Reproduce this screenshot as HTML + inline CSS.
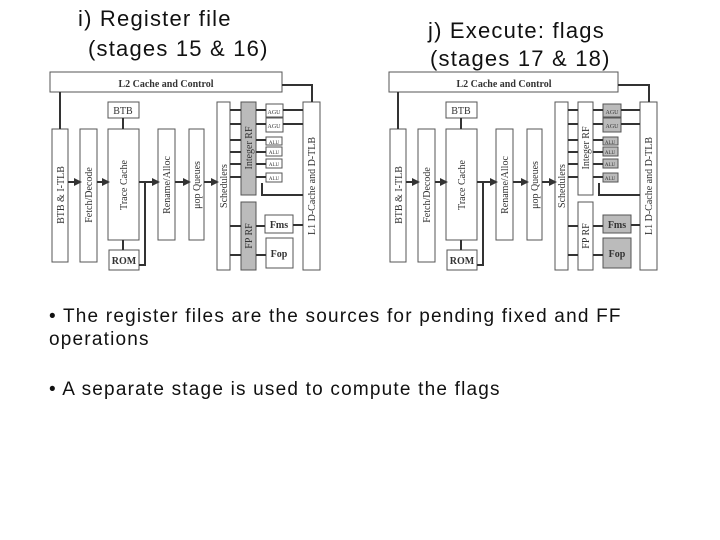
<!DOCTYPE html>
<html><head><meta charset="utf-8"><style>
body{margin:0;width:720px;height:540px;background:#fff;position:relative;overflow:hidden;font-family:"Liberation Sans",sans-serif}
.t{position:absolute;font-size:22px;letter-spacing:1.2px;color:#111;white-space:nowrap}
.b{position:absolute;font-size:19px;letter-spacing:1.2px;color:#111;left:49px;width:630px;line-height:23px}
svg{position:absolute;left:0;top:0}
svg text{font-family:"Liberation Serif",serif;fill:#333}
</style></head><body>
<div class="t" style="left:78px;top:6px">i) Register file</div>
<div class="t" style="left:88px;top:36px">(stages 15 &amp; 16)</div>
<div class="t" style="left:428px;top:18px">j) Execute: flags</div>
<div class="t" style="left:430px;top:46px">(stages 17 &amp; 18)</div>
<div class="b" style="top:305px">• The register files are the sources for pending fixed and FF operations</div>
<div class="b" style="top:378px">• A separate stage is used to compute the flags</div>
<svg width="720" height="540" viewBox="0 0 720 540">
<defs>
<marker id="a" markerWidth="4" markerHeight="4" refX="3" refY="2" orient="auto"><path d="M0,0L4,2L0,4z" fill="#333"/></marker>
</defs>
<g stroke="#555" stroke-width="1" fill="#fff">
<g transform="translate(45,70)">
<rect x="5" y="2" width="232" height="20"/>
<text x="121" y="17" text-anchor="middle" font-size="10" font-weight="bold" stroke="none">L2 Cache and Control</text>
<rect x="7" y="59" width="16" height="133"/>
<rect x="35" y="59" width="17" height="133"/>
<rect x="63" y="32" width="31" height="16"/>
<rect x="63" y="59" width="31" height="111"/>
<rect x="64" y="180" width="30" height="20"/>
<rect x="113" y="59" width="17" height="111"/>
<rect x="144" y="59" width="15" height="111"/>
<rect x="172" y="32" width="13" height="168"/>
<rect x="196" y="32" width="15" height="93" fill="#bbb"/>
<rect x="196" y="132" width="15" height="68" fill="#bbb"/>
<rect x="221" y="34" width="17" height="13"/>
<rect x="221" y="48" width="17" height="14"/>
<rect x="221" y="67" width="16" height="8"/>
<rect x="221" y="77" width="16" height="9"/>
<rect x="221" y="89" width="16" height="9"/>
<rect x="221" y="103" width="16" height="9"/>
<rect x="220" y="145" width="28" height="18"/>
<rect x="221" y="168" width="27" height="30"/>
<rect x="258" y="32" width="17" height="168"/>
<g stroke="none" fill="#333" font-size="10">
<text x="78" y="44" text-anchor="middle">BTB</text>
<text x="79" y="194" text-anchor="middle" font-weight="bold">ROM</text>
<text x="234" y="158" text-anchor="middle" font-weight="bold">Fms</text>
<text x="234" y="187" text-anchor="middle" font-weight="bold">Fop</text>
<text x="229" y="44" text-anchor="middle" font-size="6">AGU</text>
<text x="229" y="58" text-anchor="middle" font-size="6">AGU</text>
<text x="229" y="74" text-anchor="middle" font-size="5">ALU</text>
<text x="229" y="84" text-anchor="middle" font-size="5">ALU</text>
<text x="229" y="96" text-anchor="middle" font-size="5">ALU</text>
<text x="229" y="110" text-anchor="middle" font-size="5">ALU</text>
<text transform="translate(19,125) rotate(-90)" text-anchor="middle">BTB &amp; I-TLB</text>
<text transform="translate(47,125) rotate(-90)" text-anchor="middle">Fetch/Decode</text>
<text transform="translate(82,115) rotate(-90)" text-anchor="middle" fill="#777">Trace Cache</text>
<text transform="translate(125,115) rotate(-90)" text-anchor="middle">Rename/Alloc</text>
<text transform="translate(155,115) rotate(-90)" text-anchor="middle">μop Queues</text>
<text transform="translate(182,116) rotate(-90)" text-anchor="middle">Schedulers</text>
<text transform="translate(207,78) rotate(-90)" text-anchor="middle">Integer RF</text>
<text transform="translate(207,166) rotate(-90)" text-anchor="middle">FP RF</text>
<text transform="translate(270,116) rotate(-90)" text-anchor="middle">L1 D-Cache and D-TLB</text>
</g>
<g stroke="#333" stroke-width="2" fill="none">
<path d="M15,22V59"/><path d="M23,112H35" marker-end="url(#a)"/><path d="M52,112H63" marker-end="url(#a)"/>
<path d="M78,48V59"/><path d="M78,170V180"/>
<path d="M94,112H113" marker-end="url(#a)"/><path d="M94,195H100V112"/>
<path d="M130,112H144" marker-end="url(#a)"/><path d="M159,112H172" marker-end="url(#a)"/>
<path d="M185,40H196M185,54H196M185,70H196M185,82H196M185,94H196M185,107H196M185,156H196M185,185H196"/>
<path d="M211,40H221M211,54H221M211,70H221M211,82H221M211,94H221M211,107H221M211,156H220M211,185H221"/>
<path d="M238,40H258M238,54H258M248,155H258M217,113V125H258"/>
<path d="M237,15H267V32"/>
</g>
</g>
<g transform="translate(385,70)">
<rect x="4" y="2" width="229" height="20"/>
<text x="119" y="17" text-anchor="middle" font-size="10" font-weight="bold" stroke="none">L2 Cache and Control</text>
<rect x="5" y="59" width="16" height="133"/>
<rect x="33" y="59" width="17" height="133"/>
<rect x="61" y="32" width="31" height="16"/>
<rect x="61" y="59" width="31" height="111"/>
<rect x="62" y="180" width="30" height="20"/>
<rect x="111" y="59" width="17" height="111"/>
<rect x="142" y="59" width="15" height="111"/>
<rect x="170" y="32" width="13" height="168"/>
<rect x="193" y="32" width="15" height="93"/>
<rect x="193" y="132" width="15" height="68"/>
<rect x="218" y="34" width="18" height="13" fill="#bbb"/>
<rect x="218" y="48" width="18" height="14" fill="#bbb"/>
<rect x="218" y="67" width="15" height="8" fill="#bbb"/>
<rect x="218" y="77" width="15" height="9" fill="#bbb"/>
<rect x="218" y="89" width="15" height="9" fill="#bbb"/>
<rect x="218" y="103" width="15" height="9" fill="#bbb"/>
<rect x="218" y="145" width="28" height="18" fill="#bbb"/>
<rect x="218" y="168" width="28" height="30" fill="#bbb"/>
<rect x="255" y="32" width="17" height="168"/>
<g stroke="none" fill="#333" font-size="10">
<text x="76" y="44" text-anchor="middle">BTB</text>
<text x="77" y="194" text-anchor="middle" font-weight="bold">ROM</text>
<text x="232" y="158" text-anchor="middle" font-weight="bold">Fms</text>
<text x="232" y="187" text-anchor="middle" font-weight="bold">Fop</text>
<text x="227" y="44" text-anchor="middle" font-size="6">AGU</text>
<text x="227" y="58" text-anchor="middle" font-size="6">AGU</text>
<text x="225" y="74" text-anchor="middle" font-size="5">ALU</text>
<text x="225" y="84" text-anchor="middle" font-size="5">ALU</text>
<text x="225" y="96" text-anchor="middle" font-size="5">ALU</text>
<text x="225" y="110" text-anchor="middle" font-size="5">ALU</text>
<text transform="translate(17,125) rotate(-90)" text-anchor="middle">BTB &amp; I-TLB</text>
<text transform="translate(45,125) rotate(-90)" text-anchor="middle">Fetch/Decode</text>
<text transform="translate(80,115) rotate(-90)" text-anchor="middle" fill="#777">Trace Cache</text>
<text transform="translate(123,115) rotate(-90)" text-anchor="middle">Rename/Alloc</text>
<text transform="translate(153,115) rotate(-90)" text-anchor="middle">μop Queues</text>
<text transform="translate(180,116) rotate(-90)" text-anchor="middle">Schedulers</text>
<text transform="translate(204,78) rotate(-90)" text-anchor="middle">Integer RF</text>
<text transform="translate(204,166) rotate(-90)" text-anchor="middle">FP RF</text>
<text transform="translate(267,116) rotate(-90)" text-anchor="middle">L1 D-Cache and D-TLB</text>
</g>
<g stroke="#333" stroke-width="2" fill="none">
<path d="M13,22V59"/><path d="M21,112H33" marker-end="url(#a)"/><path d="M50,112H61" marker-end="url(#a)"/>
<path d="M76,48V59"/><path d="M76,170V180"/>
<path d="M92,112H111" marker-end="url(#a)"/><path d="M92,195H98V112"/>
<path d="M128,112H142" marker-end="url(#a)"/><path d="M157,112H170" marker-end="url(#a)"/>
<path d="M183,40H193M183,54H193M183,70H193M183,82H193M183,94H193M183,107H193M183,156H193M183,185H193"/>
<path d="M208,40H218M208,54H218M208,70H218M208,82H218M208,94H218M208,107H218M208,156H218M208,185H218"/>
<path d="M236,40H255M236,54H255M246,155H255M214,113V125H255"/>
<path d="M233,15H264V32"/>
</g>
</g>
</g>
</svg>
</body></html>
